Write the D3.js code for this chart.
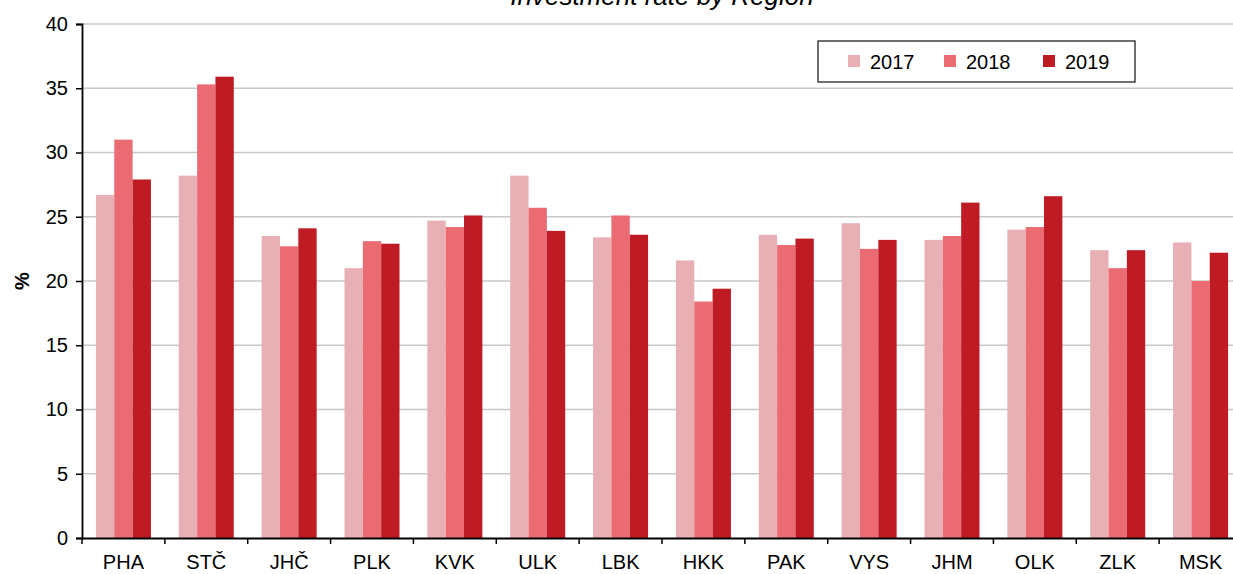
<!DOCTYPE html>
<html><head><meta charset="utf-8">
<script src="https://cdn.jsdelivr.net/npm/d3@7"></script>
<style>body{margin:0;background:#fff;}svg{display:block;font-family:"Liberation Sans",Arial,sans-serif;}</style>
</head><body><svg id="c" width="1233" height="574"></svg>
<script>
const categories = ["PHA","STČ","JHČ","PLK","KVK","ULK","LBK","HKK","PAK","VYS","JHM","OLK","ZLK","MSK"];
const seriesNames = ["2017","2018","2019"];
const v2017 = [26.7,28.2,23.5,21.0,24.7,28.2,23.4,21.6,23.6,24.5,23.2,24.0,22.4,23.0];
const v2018 = [31.0,35.3,22.7,23.1,24.2,25.7,25.1,18.4,22.8,22.5,23.5,24.2,21.0,20.0];
const v2019 = [27.9,35.9,24.1,22.9,25.1,23.9,23.6,19.4,23.3,23.2,26.1,26.6,22.4,22.2];
const yTicks = [0,5,10,15,20,25,30,35,40];
const colors = ["#E8B0B4","#EB6B73","#BE1B25"];
const title = "Investment rate by Region";

(function(){
const series = [v2017,v2018,v2019];
const svg = d3.select("#c");
const pLeft = 82, pRight = 1242, pTop = 24, pBottom = 538;
const FS = 20;
const x = d3.scaleBand().domain(categories).range([pLeft,pRight]).paddingInner(0).paddingOuter(0);
const xg = d3.scaleBand().domain(seriesNames).range([0, x.bandwidth()]).paddingInner(0).paddingOuter(0.76);
const y = d3.scaleLinear().domain([0,40]).range([pBottom,pTop]);

svg.append("g").selectAll("line").data(yTicks.filter(d=>d>0)).join("line")
  .attr("x1",pLeft).attr("x2",1233).attr("y1",d=>y(d)).attr("y2",d=>y(d))
  .attr("stroke","#c8c8c8").attr("stroke-width",1.3);

const g = svg.append("g");
categories.forEach((c,i)=>{
  seriesNames.forEach((s,j)=>{
    g.append("rect").attr("x",x(c)+xg(s)).attr("width",xg.bandwidth())
      .attr("y",y(series[j][i])).attr("height",y(0)-y(series[j][i]))
      .attr("fill",colors[j]);
  });
});

const ya = svg.append("g").attr("transform",`translate(${pLeft},0)`)
  .call(d3.axisLeft(y).tickValues(yTicks).tickSize(6).tickPadding(8));
ya.select(".domain").attr("stroke","#000").attr("stroke-width",1.8);
ya.selectAll(".tick line").attr("stroke","#000").attr("stroke-width",1.5);
ya.selectAll("text").attr("font-size",FS).attr("fill","#000").attr("font-family","Liberation Sans, Arial, sans-serif");

const xa = svg.append("g").attr("transform",`translate(0,${pBottom})`)
  .call(d3.axisBottom(x).tickSize(0).tickPadding(17));
xa.select(".domain").attr("stroke","#000").attr("stroke-width",1.8);
xa.selectAll("text").attr("font-size",FS).attr("fill","#000").attr("font-family","Liberation Sans, Arial, sans-serif");
svg.append("g").selectAll("line").data(d3.range(categories.length+1)).join("line")
  .attr("x1",i=>pLeft+i*x.step()).attr("x2",i=>pLeft+i*x.step())
  .attr("y1",pBottom).attr("y2",pBottom+6).attr("stroke","#000").attr("stroke-width",1.5);

svg.append("text").attr("transform","translate(29,281) rotate(-90)").attr("text-anchor","middle")
  .attr("font-size",FS).attr("font-weight","bold").text("%");

svg.append("text").attr("x",662).attr("y",5).attr("text-anchor","middle")
  .attr("font-size",26).attr("font-style","italic").text(title);

const lg = svg.append("g");
lg.append("rect").attr("x",818).attr("y",41).attr("width",317).attr("height",41)
  .attr("fill","#fff").attr("stroke","#222").attr("stroke-width",1.3);
const lx = [848,944,1043];
seriesNames.forEach((s,j)=>{
  lg.append("rect").attr("x",lx[j]).attr("y",55).attr("width",12).attr("height",12).attr("fill",colors[j]);
  lg.append("text").attr("x",lx[j]+22).attr("y",69).attr("font-size",FS).text(s);
});
})();
</script></body></html>
